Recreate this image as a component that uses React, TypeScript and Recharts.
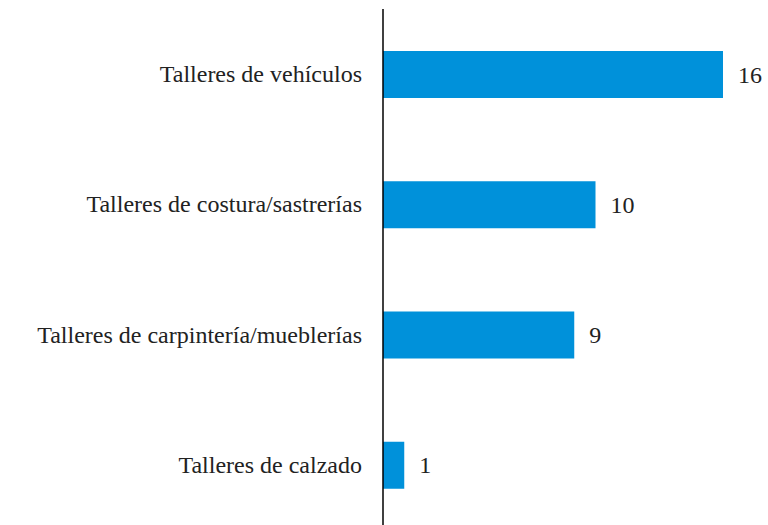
import { BarChart, Bar, XAxis, YAxis, LabelList } from 'recharts';

const categories = [
  'Talleres de vehículos',
  'Talleres de costura/sastrerías',
  'Talleres de carpintería/mueblerías',
  'Talleres de calzado',
];
const counts = [16, 10, 9, 1];

const chartData = categories.map((name, i) => ({ name, value: counts[i] }));

const FONT = '"Liberation Serif", "Times New Roman", serif';
const FONT_SIZE = 24;
const textStyle = { fontFamily: FONT, fontSize: FONT_SIZE, fill: '#222' };

function CategoryTick(props: any) {
  const { x, y, payload } = props;
  return (
    <text x={x} y={y} dy={8} textAnchor="end" fontFamily={FONT} style={textStyle}>
      {payload.value}
    </text>
  );
}

function ValueLabel(props: any) {
  const { x, y, width, height, value } = props;
  return (
    <text x={x + width + 15} y={y + height / 2} dy={8} textAnchor="start" fontFamily={FONT} style={textStyle}>
      {value}
    </text>
  );
}

export default function App() {
  return (
    <div style={{ position: 'absolute', left: 0, top: 0, width: 768, height: 525, overflow: 'hidden', background: '#fff', fontFamily: FONT }}>
      <BarChart
        width={768}
        height={530}
        data={chartData}
        layout="vertical"
        margin={{ top: 9, right: 45, bottom: 0, left: 0 }}
        barCategoryGap={0}
      >
        <XAxis type="number" domain={[0, 16]} hide />
        <YAxis
          type="category"
          dataKey="name"
          width={383}
          axisLine={{ stroke: '#000', strokeWidth: 1.5 }}
          tickLine={false}
          tickMargin={15}
          tick={<CategoryTick />}
          interval={0}
        />
        <Bar dataKey="value" fill="#0091DA" barSize={47} isAnimationActive={false}>
          <LabelList dataKey="value" content={<ValueLabel />} />
        </Bar>
      </BarChart>
    </div>
  );
}
